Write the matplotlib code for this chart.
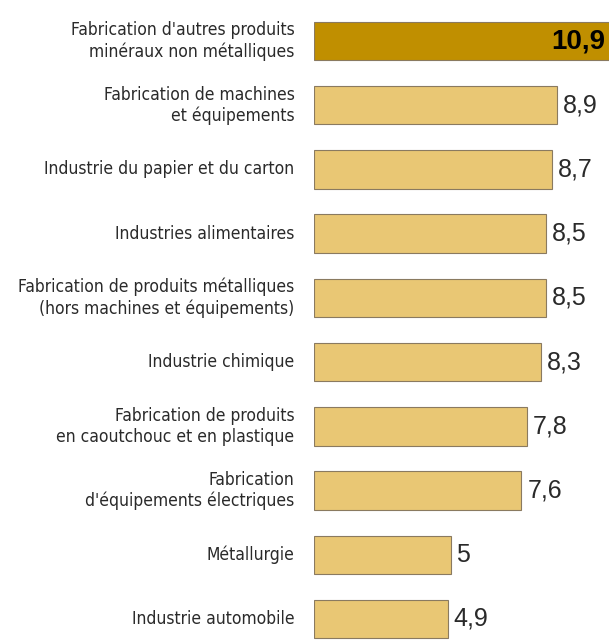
import matplotlib.pyplot as plt

categories = [
    "Fabrication d'autres produits\nminéraux non métalliques",
    "Fabrication de machines\net équipements",
    "Industrie du papier et du carton",
    "Industries alimentaires",
    "Fabrication de produits métalliques\n(hors machines et équipements)",
    "Industrie chimique",
    "Fabrication de produits\nen caoutchouc et en plastique",
    "Fabrication\nd'équipements électriques",
    "Métallurgie",
    "Industrie automobile",
]
values = [10.9, 8.9, 8.7, 8.5, 8.5, 8.3, 7.8, 7.6, 5, 4.9]
value_labels = ["10,9", "8,9", "8,7", "8,5", "8,5", "8,3", "7,8", "7,6", "5", "4,9"]

plt.rcParams["font.family"] = ["DejaVu Sans"]

fig = plt.figure(figsize=(6.09, 6.41), dpi=100)
ax = fig.add_axes([314 / 609, 0, 295 / 609, 1])

colors = ["#C08F00"] + ["#E9C774"] * (len(values) - 1)
ypos = list(range(len(values)))
ax.barh(ypos, values, height=0.6, color=colors, edgecolor="#8a7a60", linewidth=0.8)

for i, (v, lab) in enumerate(zip(values, value_labels)):
    if i == 0:
        ax.annotate(lab, (1, i), xycoords=("axes fraction", "data"),
                    xytext=(-3, 0), textcoords="offset points",
                    ha="right", va="center", fontsize=20, fontweight="bold",
                    color="black", family=["Liberation Sans", "DejaVu Sans"])
    else:
        ax.annotate(lab, (v, i), xytext=(4.3, 0), textcoords="offset points",
                    ha="left", va="center", fontsize=18, color="#2a2a2a",
                    family=["Liberation Sans", "DejaVu Sans"])
    ax.annotate(categories[i], (0, i), xycoords=("axes fraction", "data"),
                xytext=(-14, 0), textcoords="offset points",
                ha="right", va="center", fontsize=12.5, color="#2a2a2a",
                fontstretch="condensed", linespacing=1.2)

ax.set_xlim(0, 295 / 27.3)
ax.set_ylim(9 + 22 / 64.2, -41 / 64.2)
ax.axis("off")

fig.savefig("out.png", dpi=100)
